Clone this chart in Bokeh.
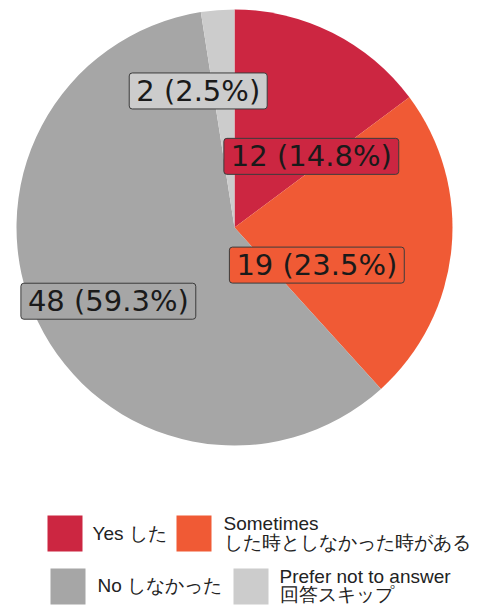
import math
from bokeh.plotting import figure
from bokeh.models import Range1d, ColumnDataSource
from bokeh.core.properties import value
from bokeh.embed import file_html
from bokeh.resources import INLINE

# ---- data ----
categories_en = ["Yes", "Sometimes", "No", "Prefer not to answer"]
categories_ja = ["した", "した時としなかった時がある", "しなかった", "回答スキップ"]
counts = [12, 19, 48, 2]
colors = ["#cc2641", "#f05a35", "#a6a6a6", "#cccccc"]

# ---- layout (page pixel coordinates, y measured downward) ----
W, H = 477, 605
CX, CY, R = 234, 227, 218
label_r = 0.55
label_nudge = [(23, 36), (-37, 26), (-18, 22), (-27, -17)]
legend_sq = [(47, 515), (176, 515), (50, 568), (233, 568)]  # left, top
legend_text_x = [92, 223, 97, 279]
legend_text_y = [[533], [523, 542], [585], [576, 594]]
SQ = 35

p = figure(width=W, height=H, output_backend="svg", toolbar_location=None,
           x_range=Range1d(0, W), y_range=Range1d(-H, 0),
           min_border=0)
p.axis.visible = False
p.grid.visible = False
p.outline_line_color = None
p.background_fill_color = "white"
p.border_fill_color = "white"

total = sum(counts)
fracs = [c / total for c in counts]
cum = [0.0]
for f in fracs:
    cum.append(cum[-1] + f)

start = [math.pi / 2 - 2 * math.pi * cum[i] for i in range(len(counts))]
end = [math.pi / 2 - 2 * math.pi * cum[i + 1] for i in range(len(counts))]

pie_src = ColumnDataSource(dict(start=start, end=end, color=colors))
p.wedge(x=CX, y=-CY, radius=R, start_angle="start", end_angle="end",
        direction="clock", fill_color="color", line_color=None, source=pie_src)

# labels
lx, ly, ltxt = [], [], []
for i, c in enumerate(counts):
    mid = (cum[i] + cum[i + 1]) / 2 * 2 * math.pi
    x = CX + label_r * R * math.sin(mid) + label_nudge[i][0]
    y = CY - label_r * R * math.cos(mid) + label_nudge[i][1]
    lx.append(x)
    ly.append(-y)
    ltxt.append(f"{c} ({c / total * 100:.1f}%)")

lab_src = ColumnDataSource(dict(x=lx, y=ly, text=ltxt, fill=colors))
p.text(x="x", y="y", text="text", source=lab_src,
       text_align="center", text_baseline="middle",
       text_font=value("DejaVu Sans"), text_font_size="29px",
       text_color="#1a1a1a",
       background_fill_color="fill",
       border_line_color="#3c3c3c", border_line_width=1,
       border_radius=3,
       padding=dict(left=7, right=7, top=1, bottom=1))

# legend
lefts = [s[0] for s in legend_sq]
tops = [s[1] for s in legend_sq]
p.quad(left=lefts, right=[l + SQ for l in lefts],
       top=[-t for t in tops], bottom=[-(t + SQ + 1) for t in tops],
       fill_color=colors, line_color=None)

tx, ty, tt = [], [], []
for i in range(len(counts)):
    if len(legend_text_y[i]) == 1:
        lines = [f"{categories_en[i]} {categories_ja[i]}"]
    else:
        lines = [categories_en[i], categories_ja[i]]
    for line, yy in zip(lines, legend_text_y[i]):
        tx.append(legend_text_x[i])
        ty.append(-yy)
        tt.append(line)

p.text(x=tx, y=ty, text=tt, text_align="left", text_baseline="middle",
       text_font=value("Liberation Sans"), text_font_size="19px",
       text_color="#222222")

open("out.html", "w").write(file_html(p, INLINE))
